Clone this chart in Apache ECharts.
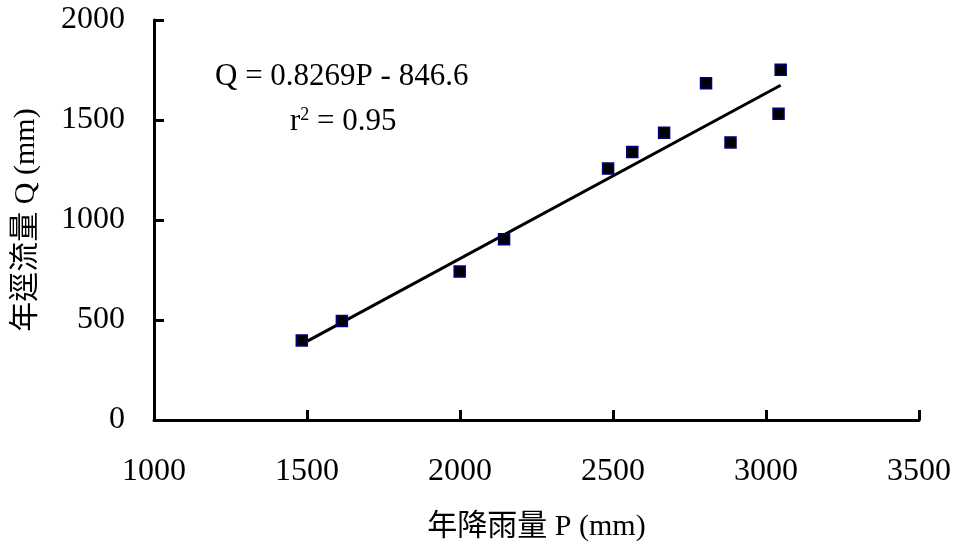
<!DOCTYPE html>
<html>
<head>
<meta charset="utf-8">
<script src="https://cdn.jsdelivr.net/npm/echarts@6/dist/echarts.min.js"></script>
<style>html,body{margin:0;padding:0;background:#fff;}#c{width:954px;height:547px;}</style>
</head>
<body>
<div id="c"></div>
<script>
// Observed points: annual precipitation P (mm) vs annual runoff Q (mm)
var precipP = [1483, 1614, 1999, 2144, 2484, 2563, 2667, 2804, 2884, 3041, 3048];
var runoffQ = [398, 495, 742, 904, 1257, 1340, 1436, 1684, 1388, 1531, 1751];
// Regression shown on the chart
var slope = 0.8269;
var intercept = -846.6;
var xTicks = [1000, 1500, 2000, 2500, 3000, 3500];
var yTicks = [0, 500, 1000, 1500, 2000];

var FONT = '"Liberation Serif", "Times New Roman", "Noto Sans CJK TC", serif';
var pts = precipP.map(function (p, i) { return [p, runoffQ[i]]; });
var pMin = Math.min.apply(null, precipP), pMax = Math.max.apply(null, precipP);
var fit = [[pMin, slope * pMin + intercept], [pMax, slope * pMax + intercept]];

var chart = echarts.init(document.getElementById('c'), null, {renderer: 'canvas'});
var axisCommon = {
  axisLine: {show: true, onZero: false, lineStyle: {color: '#000', width: 3}},
  axisTick: {show: true, inside: true, length: 10, lineStyle: {color: '#000', width: 3}},
  splitLine: {show: false},
  nameTextStyle: {fontFamily: FONT, fontSize: 30, color: '#000'}
};
function plain(v) { return String(v); }
chart.setOption({
  backgroundColor: '#fff',
  animation: false,
  grid: {left: 154, right: 35, top: 20, bottom: 124, containLabel: false},
  xAxis: Object.assign({}, axisCommon, {
    type: 'value', min: xTicks[0], max: xTicks[xTicks.length - 1], interval: 500,
    name: '年降雨量 P (mm)', nameLocation: 'middle', nameGap: 92,
    axisLabel: {fontFamily: FONT, fontSize: 32, color: '#000', margin: 36, formatter: plain}
  }),
  yAxis: Object.assign({}, axisCommon, {
    type: 'value', min: yTicks[0], max: yTicks[yTicks.length - 1], interval: 500,
    name: '年逕流量 Q (mm)', nameLocation: 'middle', nameGap: 113,
    axisLabel: {fontFamily: FONT, fontSize: 32, color: '#000', margin: 29, formatter: plain}
  }),
  series: [
    {
      type: 'line', data: fit, symbol: 'none',
      lineStyle: {color: '#000', width: 3}, z: 2
    },
    {
      type: 'scatter', data: pts, symbol: 'rect', symbolSize: 11,
      itemStyle: {color: '#000', borderColor: '#000080', borderWidth: 1.5, opacity: 1}, z: 3
    }
  ],
  graphic: [
    {type: 'text', left: 215, top: 61, style: {text: 'Q = 0.8269P - 846.6', font: '31px ' + FONT, fill: '#000'}},
    {type: 'text', left: 290, top: 106, style: {
      text: 'r{sup|2} = 0.95', font: '31px ' + FONT, fill: '#000',
      rich: {sup: {fontSize: 18, fontFamily: FONT, verticalAlign: 'top', padding: [0, 0, 14, 0]}}
    }}
  ]
});
</script>
</body>
</html>
